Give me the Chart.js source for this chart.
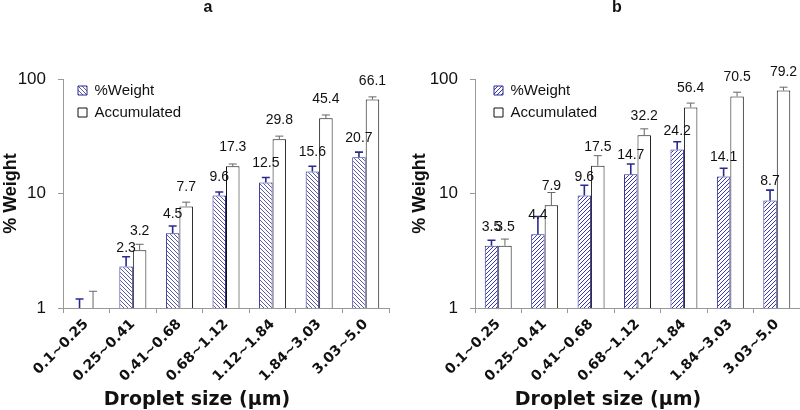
<!DOCTYPE html>
<html>
<head>
<meta charset="utf-8">
<script src="https://cdn.jsdelivr.net/npm/chart.js@4"></script>
<style>
  body { margin: 0; background: #fff; }
  .wrap { display: flex; width: 800px; height: 410px; }
  canvas { display: block; }
</style>
</head>
<body>
<div class="wrap">
  <canvas id="chart-a" width="400" height="410"></canvas>
  <canvas id="chart-b" width="400" height="410"></canvas>
</div>
<script>
// Droplet size classes (µm)
const sizes = ['0.1~0.25', '0.25~0.41', '0.41~0.68', '0.68~1.12', '1.12~1.84', '1.84~3.03', '3.03~5.0'];

// Panel a
const weightA = [0.9, 2.3, 4.5, 9.6, 12.5, 15.6, 20.7];
const accumA = [0.9, 3.2, 7.7, 17.3, 29.8, 45.4, 66.1];
const weightErrA = [0.3, 0.5, 0.7, 0.7, 1.3, 1.7, 2.3];
const accumErrA = [0.5, 0.4, 0.7, 0.8, 1.9, 3.1, 3.7];

// Panel b
const weightB = [3.5, 4.4, 9.6, 14.7, 24.2, 14.1, 8.7];
const accumB = [3.5, 7.9, 17.5, 32.2, 56.4, 70.5, 79.2];
const weightErrB = [0.4, 1.9, 2.2, 3.4, 4.1, 2.5, 2.0];
const accumErrB = [0.5, 2.3, 3.9, 4.5, 5.2, 6.2, 5.6];

const yTicks = [1, 10, 100];

Chart.defaults.font.family = "'Liberation Sans', Arial, sans-serif";
Chart.defaults.color = '#111';

/**
 * Small diagonal hatch used for the %Weight bars
 */
function hatch(color, forward) {
    const c = document.createElement('canvas');
    c.width = 4;
    c.height = 4;
    const g = c.getContext('2d');
    g.fillStyle = '#fff';
    g.fillRect(0, 0, 4, 4);
    g.fillStyle = color;
    for (let i = 0; i < 4; i++) {
        g.fillRect(forward ? 3 - i : i, i, 1, 1);
    }
    return g.createPattern(c, 'repeat');
}

// Error bars, value labels and the loose captions
const extras = {
    id: 'extras',
    afterLayout(chart, args, opts) {
        // put the legend inside the plot, near its top left corner
        const legend = chart.legend;
        const h = legend.bottom - legend.top;
        legend.left += opts.legendDx;
        legend.top = chart.chartArea.top + opts.legendDy;
        legend.bottom = legend.top + h;
    },
    afterDatasetsDraw(chart, args, opts) {
        const ctx = chart.ctx;
        const y = chart.scales.y;
        ctx.save();
        chart.data.datasets.forEach((ds, i) => {
            const meta = chart.getDatasetMeta(i);
            meta.data.forEach((bar, j) => {
                const v = ds.data[j];
                const top = y.getPixelForValue(v + ds.errors[j]);
                const from = Math.min(bar.y, y.bottom);
                ctx.strokeStyle = ds.errorColor;
                ctx.lineWidth = ds.errorWidth;
                ctx.beginPath();
                ctx.moveTo(bar.x, from);
                ctx.lineTo(bar.x, top);
                ctx.moveTo(bar.x - 4, top);
                ctx.lineTo(bar.x + 4, top);
                ctx.stroke();

                // labels only for bars that rise above the axis
                if (v > y.min) {
                    ctx.fillStyle = '#111';
                    ctx.font = "14px 'Liberation Sans', Arial, sans-serif";
                    ctx.textAlign = 'center';
                    ctx.textBaseline = 'alphabetic';
                    ctx.fillText(v.toFixed(1), bar.x, bar.y - 15);
                }
            });
        });

        // panel letter
        ctx.fillStyle = '#111';
        ctx.textAlign = 'center';
        ctx.textBaseline = 'middle';
        ctx.font = "bold 16px 'Liberation Sans', Arial, sans-serif";
        ctx.fillText(opts.letter, opts.letterX, 8);

        // x axis title
        ctx.font = "bold 19px 'DejaVu Sans', Verdana, sans-serif";
        ctx.textBaseline = 'alphabetic';
        ctx.fillText('Droplet size (µm)', opts.titleX, 405);
        ctx.restore();
    }
};

function makeChart(id, weight, accum, weightErr, accumErr, o) {
    const ctx = document.getElementById(id).getContext('2d');
    return new Chart(ctx, {
        type: 'bar',
        data: {
            labels: sizes,
            datasets: [{
                label: '%Weight',
                data: weight,
                errors: weightErr,
                errorColor: '#2b2b8f',
                errorWidth: 1.6,
                backgroundColor: hatch(o.hatchColor, o.forward),
                borderColor: '#2b2b8f',
                borderWidth: 1
            }, {
                label: 'Accumulated',
                data: accum,
                errors: accumErr,
                errorColor: '#666',
                errorWidth: 1,
                backgroundColor: '#fff',
                borderColor: '#111',
                borderWidth: 1
            }]
        },
        options: {
            responsive: false,
            animation: false,
            devicePixelRatio: 1,
            layout: {
                padding: { top: 79, right: o.padRight, bottom: 0, left: 0 }
            },
            datasets: {
                bar: { categoryPercentage: 0.58, barPercentage: 1 }
            },
            scales: {
                x: {
                    afterFit: scale => { scale.height = 102; },
                    grid: { drawOnChartArea: false, tickLength: 5, color: '#999' },
                    border: { color: '#999' },
                    ticks: {
                        minRotation: 45,
                        maxRotation: 45,
                        padding: 3,
                        color: '#111',
                        font: { family: "'DejaVu Sans', Verdana, sans-serif", size: 14, weight: 'bold' }
                    }
                },
                y: {
                    type: 'logarithmic',
                    min: 1,
                    max: 100,
                    afterFit: scale => { scale.width = o.yWidth; },
                    afterBuildTicks: scale => {
                        scale.ticks = yTicks.map(v => ({ value: v }));
                    },
                    grid: { drawOnChartArea: false, tickLength: 5, color: '#999' },
                    border: { color: '#999' },
                    ticks: {
                        padding: 12,
                        color: '#111',
                        font: { size: 17 },
                        callback: v => String(v)
                    },
                    title: {
                        display: true,
                        text: '% Weight',
                        padding: { top: o.yTitlePad, bottom: 0 },
                        color: '#111',
                        font: { size: 18, weight: 'bold' }
                    }
                }
            },
            plugins: {
                legend: {
                    position: 'chartArea',
                    align: 'start',
                    labels: {
                        boxWidth: 9,
                        boxHeight: 9,
                        padding: 7,
                        color: '#111',
                        font: { size: 15 }
                    }
                },
                tooltip: { enabled: false },
                extras: {
                    letter: o.letter,
                    letterX: o.letterX,
                    titleX: o.titleX,
                    legendDx: o.legendDx,
                    legendDy: -3
                }
            }
        },
        plugins: [extras]
    });
}

makeChart('chart-a', weightA, accumA, weightErrA, accumErrA, {
    letter: 'a', letterX: 208, titleX: 197, padRight: 11, yWidth: 63,
    yTitlePad: 0, legendDx: 8, hatchColor: '#5a5aa6', forward: false
});
makeChart('chart-b', weightB, accumB, weightErrB, accumErrB, {
    letter: 'b', letterX: 217, titleX: 208, padRight: 0, yWidth: 75,
    yTitlePad: 9, legendDx: 12, hatchColor: '#3535b5', forward: true
});
</script>
</body>
</html>
